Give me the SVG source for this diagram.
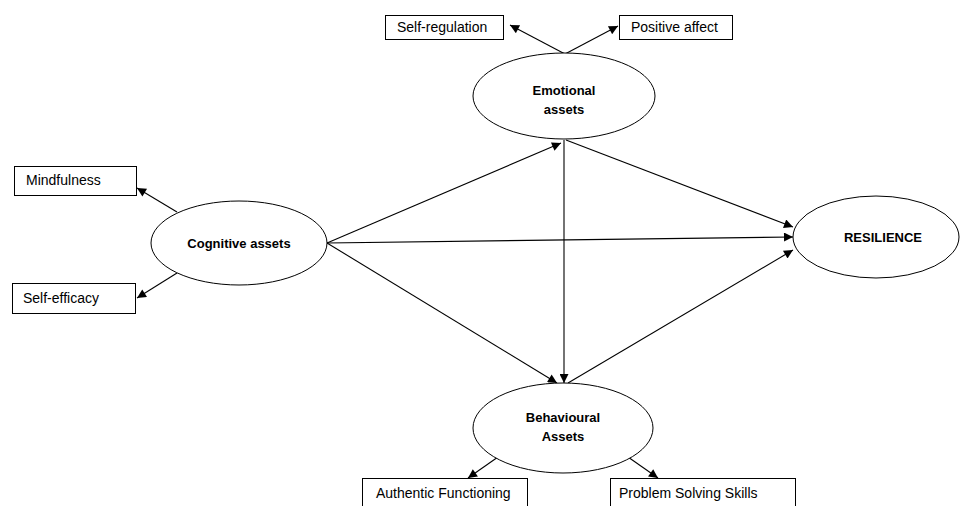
<svg xmlns="http://www.w3.org/2000/svg" width="960" height="506" viewBox="0 0 960 506">
<defs>
<marker id="ah" viewBox="0 0 10 10" refX="10" refY="5" markerWidth="11" markerHeight="9" markerUnits="userSpaceOnUse" orient="auto">
<path d="M0,0 L10,5 L0,10 z" fill="#000"/>
</marker>
<style>
.box{fill:#fff;stroke:#000;stroke-width:1}
.ell{fill:#fff;stroke:#000;stroke-width:1}
.t{font-family:"Liberation Sans",Arial,sans-serif;font-size:14px;fill:#000}
.b{font-family:"Liberation Sans",Arial,sans-serif;font-size:13px;font-weight:bold;fill:#000;text-anchor:middle}
.c{stroke:#000;stroke-width:1.1;fill:none;marker-end:url(#ah)}
</style>
</defs>
<rect width="960" height="506" fill="#fff"/>
<g id="connectors">
<line class="c" x1="565" y1="54" x2="510" y2="25"/>
<line class="c" x1="565" y1="54" x2="618" y2="26"/>
<line class="c" x1="177" y1="212" x2="137" y2="188"/>
<line class="c" x1="177" y1="273" x2="137" y2="298"/>
<line class="c" x1="327" y1="243" x2="561" y2="143"/>
<line class="c" x1="327" y1="243" x2="793" y2="237"/>
<line class="c" x1="327" y1="243" x2="557" y2="383"/>
<line class="c" x1="564" y1="140" x2="564" y2="383"/>
<line class="c" x1="566" y1="140" x2="793" y2="227"/>
<line class="c" x1="568" y1="383" x2="793" y2="250"/>
<line class="c" x1="498" y1="457" x2="468" y2="478"/>
<line class="c" x1="628" y1="457" x2="658" y2="478"/>
</g>
<g id="self-regulation">
<rect class="box" x="385.5" y="15.5" width="118" height="24"/>
<text class="t" x="397" y="32">Self-regulation</text>
</g>
<g id="positive-affect">
<rect class="box" x="619.5" y="15.5" width="113" height="24"/>
<text class="t" x="631" y="32">Positive affect</text>
</g>
<g id="emotional-assets">
<ellipse class="ell" cx="564" cy="96" rx="91" ry="43"/>
<text class="b" x="564" y="95">Emotional</text>
<text class="b" x="564" y="114">assets</text>
</g>
<g id="mindfulness">
<rect class="box" x="14.5" y="166.5" width="122" height="29"/>
<text class="t" x="26" y="185">Mindfulness</text>
</g>
<g id="self-efficacy">
<rect class="box" x="12.5" y="283.5" width="123" height="30"/>
<text class="t" x="23" y="303">Self-efficacy</text>
</g>
<g id="cognitive-assets">
<ellipse class="ell" cx="239" cy="243" rx="88" ry="42"/>
<text class="b" x="239" y="248">Cognitive assets</text>
</g>
<g id="resilience">
<ellipse class="ell" cx="876" cy="237" rx="83" ry="41"/>
<text class="b" x="883" y="242">RESILIENCE</text>
</g>
<g id="behavioural-assets">
<ellipse class="ell" cx="563" cy="428" rx="90" ry="45"/>
<text class="b" x="563" y="422">Behavioural</text>
<text class="b" x="563" y="441">Assets</text>
</g>
<g id="authentic-functioning">
<rect class="box" x="362.5" y="478.5" width="165" height="40"/>
<text class="t" x="376" y="498">Authentic Functioning</text>
</g>
<g id="problem-solving-skills">
<rect class="box" x="610.5" y="478.5" width="185" height="40"/>
<text class="t" x="619" y="498">Problem Solving Skills</text>
</g>
</svg>
